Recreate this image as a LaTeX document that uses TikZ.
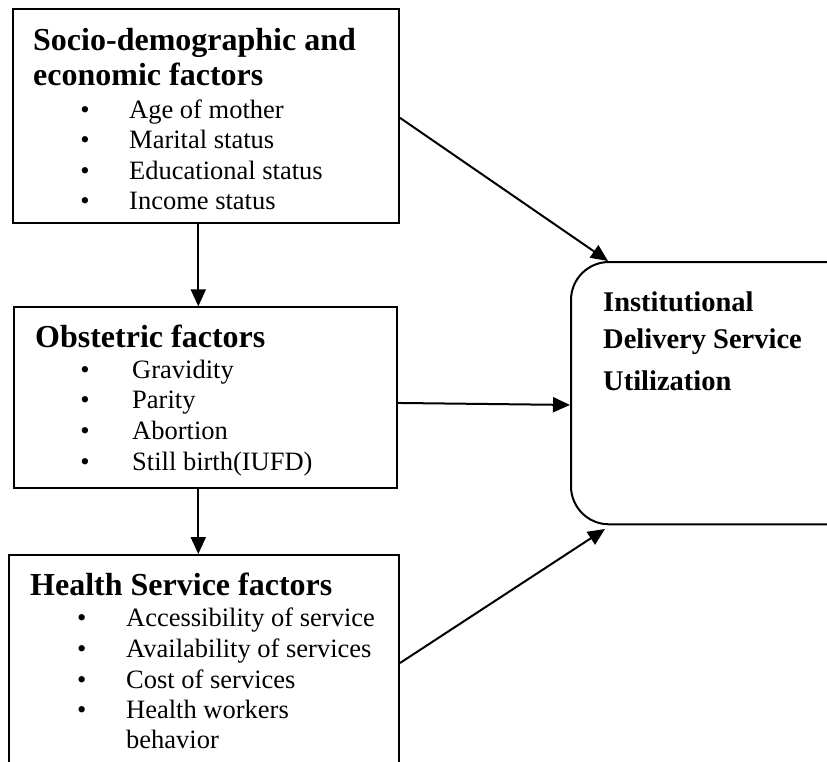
\documentclass[tikz,border=0pt]{standalone}
\usepackage{fontspec}
\setmainfont{Liberation Serif}
\usetikzlibrary{arrows.meta}

\tikzset{
  frame/.style={draw, line width=2pt, inner sep=0pt, rectangle},
  roundframe/.style={draw, line width=2pt, inner sep=0pt, rectangle, rounded corners=38pt},
  heading/.style={anchor=base west, inner sep=0pt, font=\fontsize{32}{38}\selectfont\bfseries},
  outcome/.style={anchor=base west, inner sep=0pt, font=\fontsize{28.5}{34}\selectfont\bfseries},
  item/.style={anchor=base west, inner sep=0pt, font=\fontsize{26.5}{31}\selectfont},
  dot/.style={anchor=base, inner sep=0pt, font=\fontsize{26.5}{31}\selectfont},
  link/.style={line width=2pt, -{Triangle[length=17pt,width=15pt]}}
}

\begin{document}
\begin{tikzpicture}[x=1pt, y=-1pt]
  \useasboundingbox (0,0) rectangle (827,761);
  \clip (0,0) rectangle (827,761);

  % factor boxes and outcome box
  \node[frame, minimum width=386pt, minimum height=213.7pt] (socio) at (206,115.85) {};
  \node[frame, minimum width=383pt, minimum height=180.7pt] (obst) at (205.5,397.65) {};
  \node[frame, minimum width=390pt, minimum height=230pt] (health) at (204,670) {};
  \node[roundframe, minimum width=299pt, minimum height=262.3pt] (outc) at (720.5,393.15) {};

  % socio-demographic factors
  \node[heading] (socioh1) at (33,50) {Socio-demographic and};
  \node[heading] (socioh2) at (33,85) {economic factors};
  \foreach \y/\t/\n in {118.3/Age of mother/sa, 148.3/Marital status/sb,
                         179/Educational status/sc, 209.3/Income status/sd} {
    \node[dot] (\n dot) at (85,\y) {•};
    \node[item] (\n) at (129,\y) {\t};
  }

  % obstetric factors
  \node[heading] (obsth) at (35,347.3) {Obstetric factors};
  \foreach \y/\t/\n in {378.3/Gravidity/oa, 408.3/Parity/ob,
                         439/Abortion/oc, 470/Still birth(IUFD)/od} {
    \node[dot] (\n dot) at (85,\y) {•};
    \node[item] (\n) at (132,\y) {\t};
  }

  % health service factors
  \node[heading] (healthh) at (30,595) {Health Service factors};
  \foreach \y/\t/\n in {626.7/Accessibility of service/ha, 657.3/Availability of services/hb,
                         688.3/Cost of services/hc, 718.3/Health workers/hd} {
    \node[dot] (\n dot) at (81.7,\y) {•};
    \node[item] (\n) at (126,\y) {\t};
  }
  \node[item] (he) at (126,748.3) {behavior};

  % outcome
  \node[outcome] (outc1) at (603,311.7) {Institutional};
  \node[outcome] (outc2) at (603,348.3) {Delivery Service};
  \node[outcome] (outc3) at (603,390) {Utilization};

  % connectors
  \coordinate (spine) at (198.3,0);
  \draw[link] (socio.south -| spine) -- (obst.north -| spine);
  \draw[link] (obst.south -| spine) -- (health.north -| spine);
  \draw[link] ([yshift=-2pt]socio.east) -- ([xshift=-112.5pt]outc.north);
  \draw[link] ([yshift=-5.3pt]obst.east) -- ([yshift=-11.8pt]outc.west);
  \draw[link] ([yshift=7pt]health.east) -- ([xshift=-115.5pt,yshift=-3.7pt]outc.south);
\end{tikzpicture}
\end{document}
